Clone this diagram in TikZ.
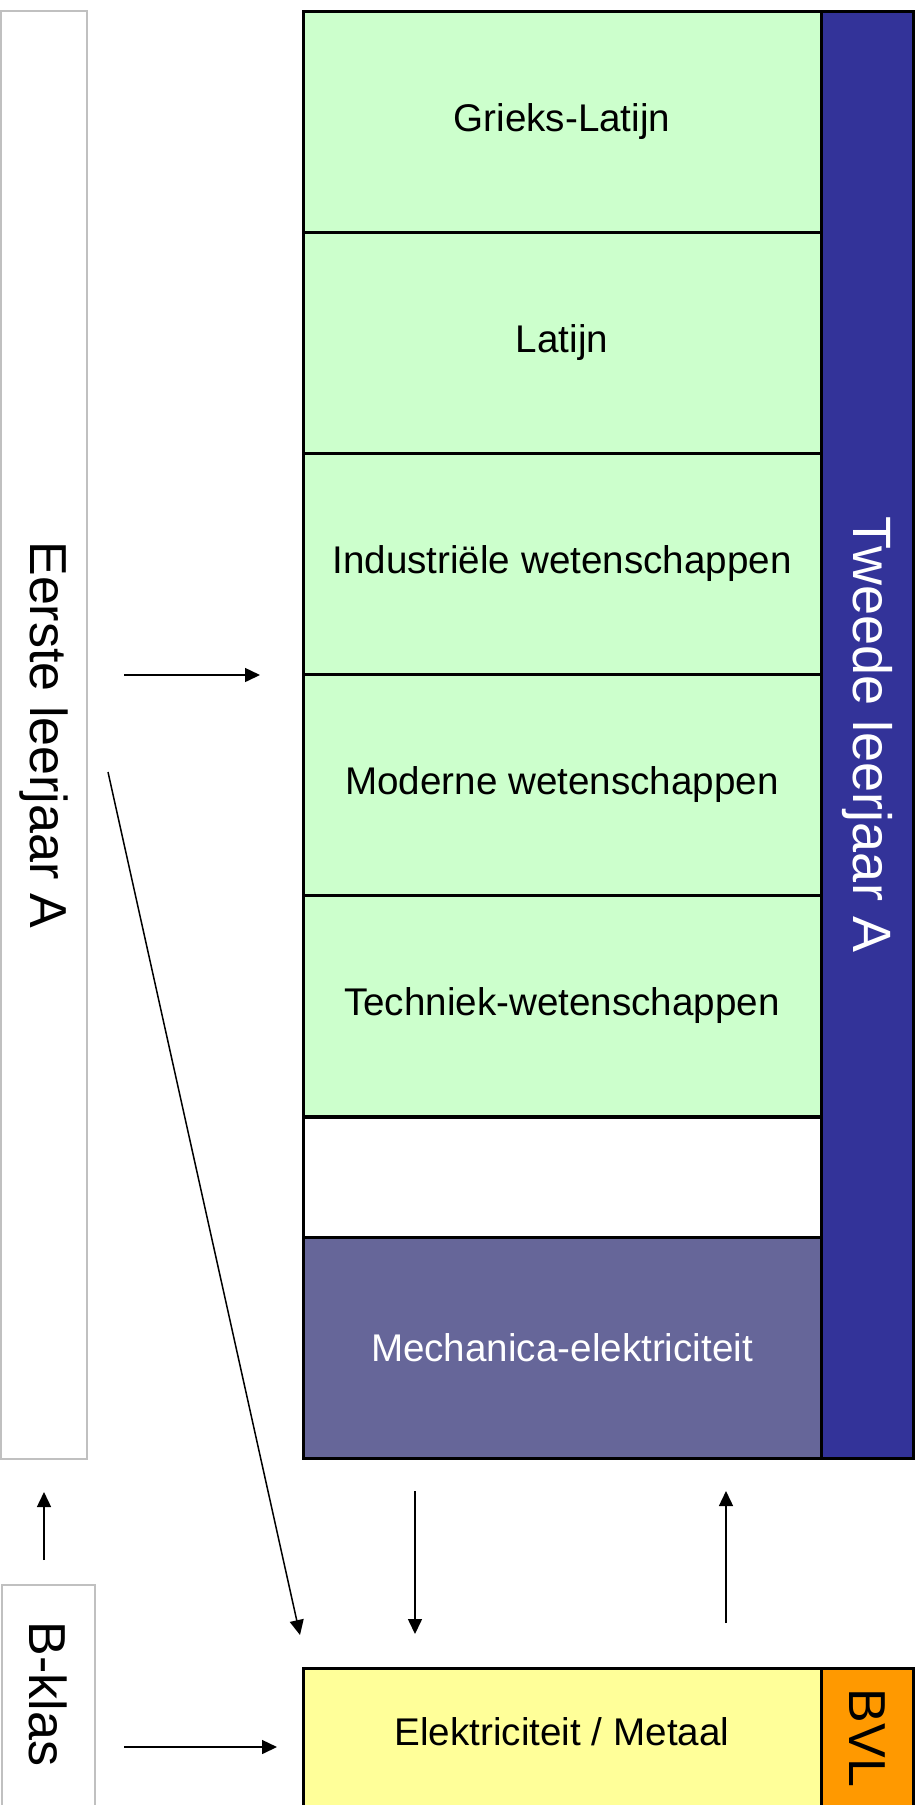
\documentclass[tikz,border=0pt]{standalone}
\usepackage{fontspec}
\setmainfont{Liberation Sans}
\usetikzlibrary{arrows.meta, positioning}
\definecolor{lichtgroen}{HTML}{CCFFCC}
\definecolor{paars}{HTML}{666699}
\definecolor{donkerblauw}{HTML}{333399}
\definecolor{lichtgeel}{HTML}{FFFF99}
\definecolor{oranje}{HTML}{FF9900}
\definecolor{zilver}{HTML}{C0C0C0}

\begin{document}
\begin{tikzpicture}
	[%
	x=0.5pt, y=-0.5pt,%
	vak/.style ={rectangle,	draw=black,	fill=lichtgroen,	line width=1.5pt,	inner sep=0pt,	minimum width=259pt,	minimum height=110.5pt,	font=\fontsize{19.3}{23}\selectfont},%
	leeg/.style ={vak,	fill=white,	minimum height=60pt},%
	mech/.style ={vak,	fill=paars,	text=white},%
	kolom/.style ={rectangle,	draw=black,	fill=donkerblauw,	line width=1.5pt,	inner sep=0pt,	minimum width=46pt,	minimum height=723.5pt,	text=white,	font=\fontsize{27}{32}\selectfont},%
	zij/.style ={rectangle,	draw=zilver,	fill=white,	line width=0.75pt,	inner sep=0pt,	font=\fontsize{26}{31}\selectfont},%
	pijl/.style ={-{Triangle[length=7.5pt,width=7pt]},	line width=0.75pt},%
	]

	\useasboundingbox (0,0) rectangle (922,1805);

	\newcommand\gx{562}
	\newcommand{\kx}{867}

	% nodes
	% left column
	\node (eerste) at (44,735) [zij, minimum width=43pt, minimum height=724pt] {\rotatebox{-90}{Eerste leerjaar A}};
	\node (bklas) at (48.5,1707.5) [zij, minimum width=46.5pt, minimum height=122.5pt,
		label={[zij, draw=none, fill=none, yshift=6.75pt]center:\rotatebox{-90}{B-klas}}] {};
	% green rows
	\foreach \n/\y/\t in {	0/121.5/Grieks-Latijn, 1/342.5/Latijn, 2/563.5/Industriële wetenschappen, %
												3/784.5/Moderne wetenschappen, 4/1006/Techniek-wetenschappen }
			\node (vak\n) at (\gx,\y) [vak] {\t};
	\node (leeg) at (\gx,1177) [leeg] {};
	\node (mech) at (\gx,1347.5) [mech] {Mechanica-elektriciteit};
	% right column
	\node (tweede) at (\kx,734.5) [kolom] {\rotatebox{-90}{Tweede leerjaar A}};
	% bottom row
	\node (elek) at (\gx,1749) [vak, fill=lichtgeel, minimum height=81pt,
		label={[font=\fontsize{19.3}{23}\selectfont, yshift=8.5pt]center:Elektriciteit / Metaal}] {};
	\node (bvl) at (\kx,1749) [kolom, fill=oranje, minimum height=81pt,
		label={[font=\fontsize{26}{31}\selectfont, yshift=5.5pt]center:\rotatebox{-90}{BVL}}] {};

	% arrow ends
	\foreach \n/\x/\y in {	a0/124/675, b0/260/675, a1/108/772, b1/300/1635, a2/415/1491, b2/415/1634, %
												a3/726/1623, b3/726/1491, a4/44/1560, b4/44/1492, a5/124/1747, b5/277/1747 }
			\coordinate (\n) at (\x,\y);

	% interconnections
	\foreach \i in {0,1,2,3,4,5}
		\draw [pijl] (a\i) -- (b\i);

\end{tikzpicture}
\end{document}
